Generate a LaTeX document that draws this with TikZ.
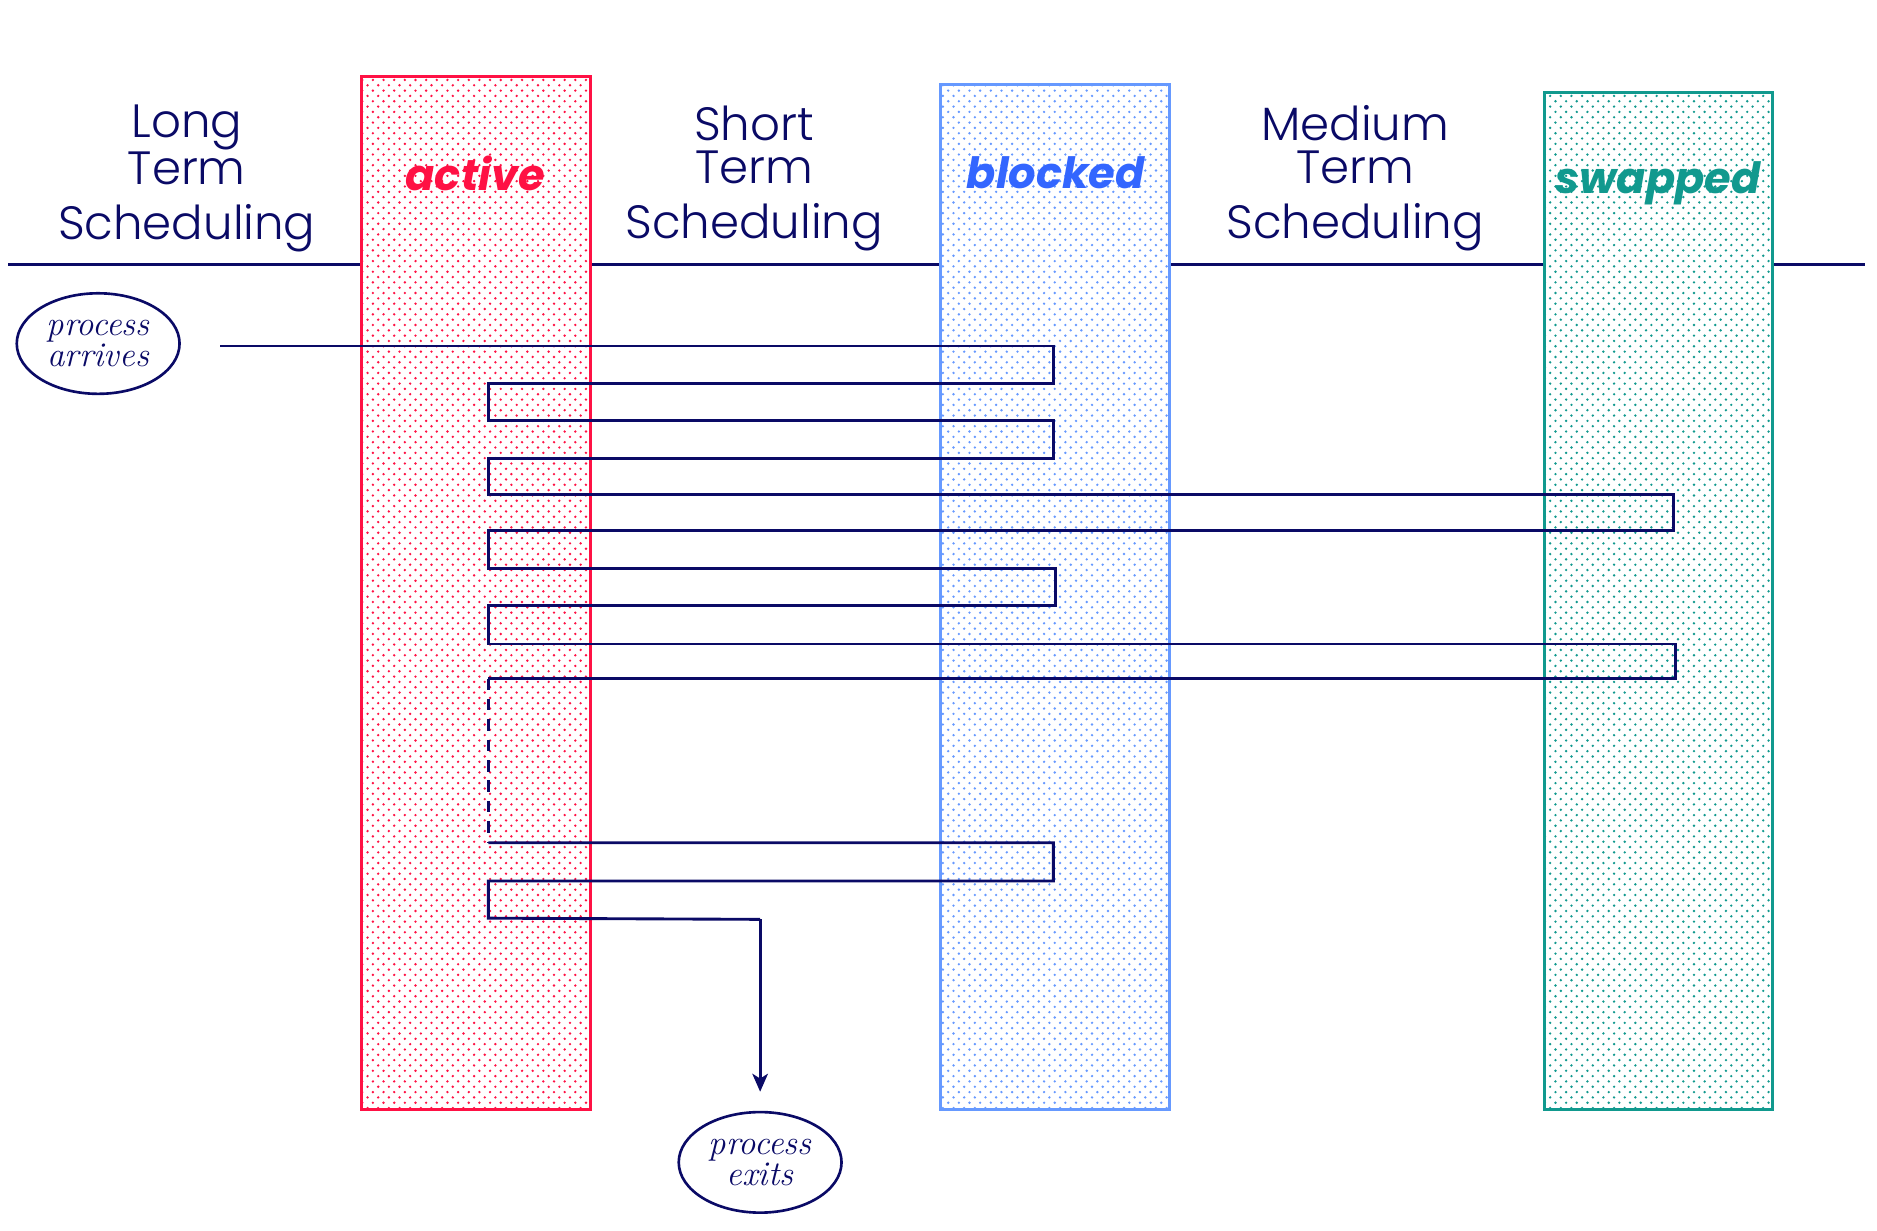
\documentclass[tikz,border=0pt]{standalone}
\usepackage{fontspec}
\setmainfont{Latin Modern Roman}
\newfontfamily\headfont{Poppins}[UprightFont=* Light]
\newfontfamily\statefont{Poppins}[UprightFont=* Bold Italic]
\usetikzlibrary{shapes.geometric,arrows.meta,patterns}

\definecolor{navy}{HTML}{0A0A66}
\definecolor{actred}{HTML}{FF1144}
\definecolor{blkline}{HTML}{6699FF}
\definecolor{blktext}{HTML}{3366FF}
\definecolor{swpteal}{HTML}{11998E}

% staggered dot screen for the state columns
\pgfdeclarepatternformonly{fatdots}{\pgfqpoint{-1.5pt}{-1.5pt}}{\pgfqpoint{10pt}{10pt}}{\pgfqpoint{8.9pt}{8.9pt}}{%
  \pgfpathcircle{\pgfqpoint{0pt}{0pt}}{1.1pt}%
  \pgfpathcircle{\pgfqpoint{4.45pt}{4.45pt}}{1.1pt}%
  \pgfusepath{fill}}

\tikzset{
  column/.style={draw=#1, line width=2.5pt, preaction={fill=white},
    pattern=fatdots, pattern color=#1, minimum width=191pt, inner sep=0pt},
  header/.style={text=navy, align=center, font=\headfont\fontsize{39}{36}\selectfont},
  state/.style={font=\statefont\fontsize{36}{40}\selectfont},
  event/.style={ellipse, draw=navy, line width=2.2pt, text=navy, align=center,
    minimum width=136pt, minimum height=84pt, inner sep=0pt,
    font=\itshape\fontsize{29}{26}\selectfont},
  flow/.style={navy, line width=2.4pt},
}

\begin{document}
\begin{tikzpicture}[x=1pt,y=-1pt]
\useasboundingbox (0,0) rectangle (1568,1028);

% time axis
\draw[flow] (7,221) -- (1558,221);

% state columns
\node[column=actred, minimum height=863pt] (act) at (397.5,495.5) {};
\node[column=blkline, minimum height=856pt] (blk) at (881.5,499) {};
\node[column=swpteal, minimum height=850pt] (swp) at (1385.5,502) {};

\node[state, text=actred] (actlbl) at (397,145) {active};
\node[state, text=blktext] (blklbl) at (882,144) {blocked};
\node[state, text=swpteal] (swplbl) at (1385,153) {swapped};

% scheduling levels
\node[header] (lts) at (156,149) {Long\\Term\\[10pt]Scheduling};
\node[header] (sts) at (630,149) {Short\\Term\\[10pt]Scheduling};
\node[header] (mts) at (1132,149) {Medium\\Term\\[10pt]Scheduling};

% events
\node[event] (arr) at (82,287) {process\\arrives};
\node[event] (exi) at (635,971) {process\\exits};

% life of a process
\coordinate (start) at (184,289);
\coordinate (stop) at (635,912);
\draw[flow] (start) -- (880,289) -- (880,320) -- (408,320) -- (408,351)
  -- (880,351) -- (880,383) -- (408,383) -- (408,413) -- (1398,413)
  -- (1398,443) -- (408,443) -- (408,475) -- (882,475) -- (882,506)
  -- (408,506) -- (408,538) -- (1400,538) -- (1400,567) -- (408,567);
\draw[flow, dash pattern=on 9.5pt off 7.5pt] (408,567) -- (408,704);
\draw[flow] (408,704) -- (880,704) -- (880,736) -- (408,736) -- (408,767)
  -- (635,768);
\draw[flow, -{Stealth[length=15pt,width=13pt,inset=4pt]}] (635,768) -- (stop);
\end{tikzpicture}
\end{document}
